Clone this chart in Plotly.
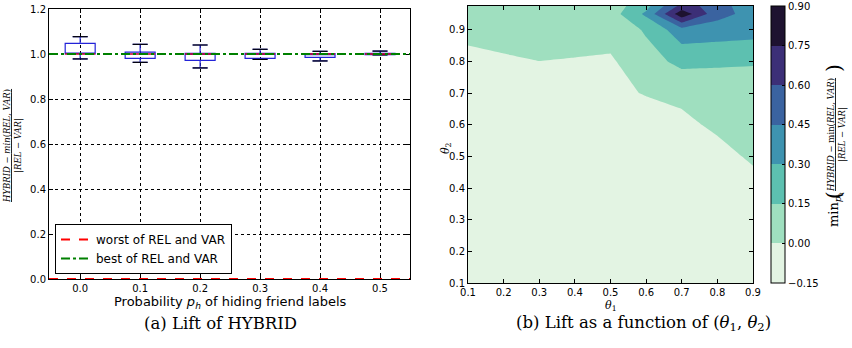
import plotly.graph_objects as go

# ---------------- data: left panel (box plots) ----------------
ph = [0.0, 0.1, 0.2, 0.3, 0.4, 0.5]
q1 = [1.000, 0.981, 0.972, 0.981, 0.985, 0.997]
median = [1.000, 1.000, 1.000, 1.000, 1.000, 1.000]
q3 = [1.047, 1.008, 1.003, 1.003, 1.002, 1.003]
lowerfence = [0.978, 0.963, 0.938, 0.976, 0.969, 0.996]
upperfence = [1.077, 1.043, 1.040, 1.021, 1.012, 1.013]
worst_level = 0.0
best_level = 1.0
left_xrange = [-0.052, 0.55]
left_yticks = [0.0, 0.2, 0.4, 0.6, 0.8, 1.0, 1.2]

# ---------------- data: right panel (contour) ----------------
theta1 = [0.1, 0.2, 0.3, 0.4, 0.5, 0.6, 0.7, 0.8, 0.9]
theta2 = [0.1, 0.2, 0.3, 0.4, 0.5, 0.6, 0.7, 0.8, 0.9, 0.95, 0.975]
lift = [
    [-0.11, -0.11, -0.10, -0.11, -0.10, -0.11, -0.10, -0.10, -0.09],   # 0.1
    [-0.11, -0.10, -0.10, -0.10, -0.10, -0.10, -0.10, -0.09, -0.09],   # 0.2
    [-0.10, -0.10, -0.10, -0.10, -0.10, -0.10, -0.09, -0.09, -0.08],   # 0.3
    [-0.10, -0.10, -0.10, -0.10, -0.10, -0.10, -0.09, -0.08, -0.07],   # 0.4
    [-0.10, -0.10, -0.10, -0.10, -0.09, -0.08, -0.07, -0.065, 0.03],   # 0.5
    [-0.09, -0.09, -0.09, -0.08, -0.07, -0.09, -0.045, 0.035, 0.06],   # 0.6
    [-0.08, -0.07, -0.07, -0.06, -0.04, 0.01, 0.045, 0.08, 0.09],      # 0.7
    [-0.05, -0.03, -0.001, -0.01, -0.02, 0.10, 0.183, 0.1675, 0.16],   # 0.8
    [0.05, 0.09, 0.08, 0.07, 0.06, 0.165, 0.396, 0.381, 0.363],        # 0.9
    [0.06, 0.09, 0.09, 0.08, 0.08, 0.33, 0.85, 0.50, 0.40],            # 0.95
    [0.05, 0.08, 0.08, 0.07, 0.07, 0.25, 0.65, 0.55, 0.30],            # 0.975
]
levels = [-0.15, 0.0, 0.15, 0.30, 0.45, 0.60, 0.75, 0.90]
band_colors = ['#e3f4e3', '#9fdfbf', '#5dc0b0', '#3e93b0', '#3a63a0', '#3c2f77', '#1e1230']

# ---------------- figure ----------------
fig = go.Figure()

box_w = 0.05
fig.add_trace(go.Box(
    x=ph, q1=q1, median=median, q3=q3, lowerfence=lowerfence, upperfence=upperfence,
    width=box_w, whiskerwidth=0.5, boxpoints=False,
    line=dict(color='#2323d8', width=1.2), fillcolor='rgba(0,0,0,0)',
    showlegend=False, xaxis='x', yaxis='y', hoverinfo='skip'))

# black caps and red medians (matplotlib style) derived from the data
cap_x, cap_y, med_x, med_y = [], [], [], []
for p, lo, hi, m in zip(ph, lowerfence, upperfence, median):
    for v in (lo, hi):
        cap_x += [p - box_w / 4, p + box_w / 4, None]
        cap_y += [v, v, None]
    med_x += [p - box_w / 2, p + box_w / 2, None]
    med_y += [m, m, None]
fig.add_trace(go.Scatter(x=cap_x, y=cap_y, mode='lines', line=dict(color='black', width=1.2),
                         showlegend=False, hoverinfo='skip', xaxis='x', yaxis='y'))
fig.add_trace(go.Scatter(x=med_x, y=med_y, mode='lines', line=dict(color='red', width=1.2),
                         showlegend=False, hoverinfo='skip', xaxis='x', yaxis='y'))

fig.add_trace(go.Scatter(x=left_xrange, y=[worst_level] * 2, mode='lines',
                         line=dict(color='#ff0000', width=2.2, dash='dash'),
                         name='worst of REL and VAR', xaxis='x', yaxis='y'))
fig.add_trace(go.Scatter(x=left_xrange, y=[best_level] * 2, mode='lines',
                         line=dict(color='#008000', width=2, dash='dashdot'),
                         name='best of REL and VAR', xaxis='x', yaxis='y'))

# contour (filled bands)
ncl = len(levels)
cscale = [[0.0, band_colors[0]]]
for k, c in enumerate(band_colors):
    cscale.append([(k + 1) / ncl, c])
cscale.append([1.0, band_colors[-1]])

fig.add_trace(go.Contour(
    x=theta1, y=theta2, z=lift, xaxis='x2', yaxis='y2',
    contours=dict(start=levels[0], end=levels[-1], size=0.15, coloring='fill', showlines=False),
    line=dict(width=0, smoothing=0),
    colorscale=cscale, showscale=False, hoverinfo='skip'))

# discrete colour bar (stepped scale over exactly the contour levels)
nb = len(band_colors)
step_scale = []
for k, c in enumerate(band_colors):
    step_scale += [[k / nb, c], [(k + 1) / nb, c]]
fig.add_trace(go.Scatter(
    x=[theta1[0]] * ncl, y=[theta2[0]] * ncl, mode='markers', xaxis='x2', yaxis='y2',
    marker=dict(color=levels, colorscale=step_scale, cmin=levels[0], cmax=levels[-1],
                opacity=0, size=1, showscale=True,
                colorbar=dict(
                    x=771 / 852, xanchor='left', xpad=0, ypad=0,
                    y=1 - 144.5 / 348, yanchor='middle', len=277 / 348, lenmode='fraction',
                    thickness=14, outlinecolor='black', outlinewidth=1,
                    tickvals=levels, ticktext=[f'{v:.2f}'.replace('-', '−') for v in levels],
                    ticks='inside', ticklen=3, tickcolor='black',
                    tickfont=dict(family='DejaVu Sans', size=10, color='black'))),
    showlegend=False, hoverinfo='skip'))

axis_common = dict(showline=True, linecolor='black', linewidth=1, mirror='allticks',
                   ticks='inside', ticklen=4, tickcolor='black', zeroline=False,
                   automargin=False)

fig.update_layout(
    width=852, height=348, margin=dict(l=0, r=0, t=0, b=0),
    paper_bgcolor='white', plot_bgcolor='white',
    font=dict(family='DejaVu Sans', color='black'),
    xaxis=dict(domain=[49 / 852, 410 / 852], range=left_xrange, tickvals=ph,
               ticktext=[f'{v:.1f}' for v in ph], tickfont=dict(size=10),
               showgrid=True, gridcolor='black', griddash='dot', gridwidth=1,
               anchor='y', layer='below traces', **axis_common),
    yaxis=dict(domain=[1 - 279 / 348, 1 - 9 / 348], range=[0, 1.2], tickvals=left_yticks,
               ticktext=[f'{v:.1f}' for v in left_yticks], tickfont=dict(size=10),
               showgrid=True, gridcolor='black', griddash='dot', gridwidth=1,
               anchor='x', layer='below traces', **axis_common),
    xaxis2=dict(domain=[468 / 852, 753 / 852], range=[0.1, 0.9], tickvals=theta1,
                ticktext=[f'{v:.1f}' for v in theta1], tickfont=dict(size=10),
                showgrid=False, anchor='y2', **axis_common),
    yaxis2=dict(domain=[1 - 283 / 348, 1 - 6 / 348], range=[0.1, 0.975], tickvals=theta1,
                ticktext=[f'{v:.1f}' for v in theta1], tickfont=dict(size=10),
                showgrid=False, anchor='x2', **axis_common),
    legend=dict(x=55 / 852, y=1 - 274 / 348, xanchor='left', yanchor='bottom',
                bordercolor='black', borderwidth=1, bgcolor='white',
                font=dict(family='DejaVu Sans', size=12), tracegroupgap=0,
                itemwidth=30),
    showlegend=True,
)

ann = [
    dict(text='Probability <i>p<sub>h</sub></i> of hiding friend labels', x=230 / 852, y=1 - 302 / 348,
         font=dict(size=13)),
    dict(text='(a) Lift of HYBRID', x=220 / 852, y=1 - 323 / 348,
         font=dict(family='DejaVu Serif', size=16.5)),
    dict(text='(b) Lift as a function of (<i>θ</i><sub>1</sub>, <i>θ</i><sub>2</sub>)', x=643 / 852, y=1 - 323 / 348,
         font=dict(family='DejaVu Serif', size=16.5)),
    dict(text='<i>θ</i><sub>1</sub>', x=611 / 852, y=1 - 306 / 348,
         font=dict(family='DejaVu Serif', size=11)),
    dict(text='<i>θ</i><sub>2</sub>', x=446 / 852, y=1 - 148 / 348, textangle=-90,
         font=dict(family='DejaVu Serif', size=11)),
    # left y-axis label: fraction (underlined numerator acts as the bar)
    dict(text='<span style="text-decoration:underline"><i>HYBRID</i> − <i>min</i>(<i>REL, VAR</i>)</span><br><i>|REL − VAR|</i>',
         x=13 / 852, y=1 - 146 / 348, textangle=-90,
         font=dict(family='DejaVu Serif', size=8.5)),
    # colour-bar label
    dict(text='<span style="text-decoration:underline"><i>HYBRID</i> − min(<i>REL, VAR</i>)</span><br><i>|REL − VAR|</i>',
         x=837 / 852, y=1 - 135 / 348, textangle=-90,
         font=dict(family='DejaVu Serif', size=8.5)),
    dict(text='min<sub><i>p<sub>h</sub></i></sub>', x=835 / 852, y=1 - 210 / 348, textangle=-90,
         font=dict(family='DejaVu Serif', size=13)),
    dict(text='(', x=834 / 852, y=1 - 195 / 348, textangle=-90,
         font=dict(family='DejaVu Serif', size=20)),
    dict(text=')', x=834 / 852, y=1 - 68 / 348, textangle=-90,
         font=dict(family='DejaVu Serif', size=20)),
]
for a in ann:
    a.update(xref='paper', yref='paper', showarrow=False, xanchor='center', yanchor='middle')
fig.update_layout(annotations=ann)

fig.write_html('out.html')
